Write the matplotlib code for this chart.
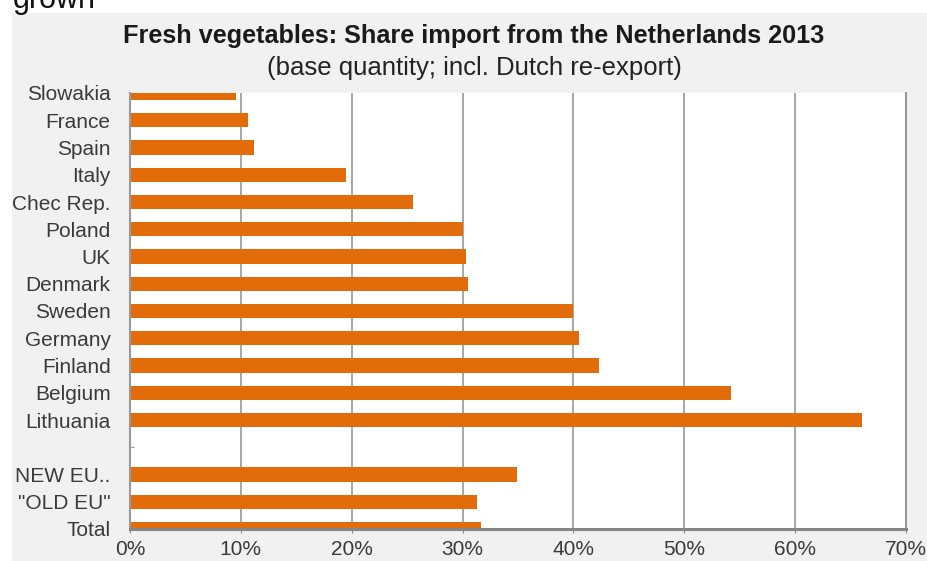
import numpy as np
import matplotlib.pyplot as plt
from matplotlib.patches import Rectangle

# --- datos (% de importacion desde Paises Bajos) ---
paises = ["Slowakia", "France", "Spain", "Italy", "Chec Rep.", "Poland", "UK",
          "Denmark", "Sweden", "Germany", "Finland", "Belgium", "Lithuania",
          "", "NEW EU..", "\"OLD EU\"", "Total"]
cuota = [9.6, 10.6, 11.2, 19.5, 25.5, 30.0, 30.3, 30.5, 40.0, 40.5, 42.3,
         54.2, 66.0, np.nan, 34.9, 31.3, 31.7]
xticks = [0, 10, 20, 30, 40, 50, 60, 70]
xtick_labels = [f"{v}%" for v in xticks]

NARANJA = "#E36C0A"
GRIS_TXT = "#3a3a3a"

plt.rcParams["font.family"] = ["Liberation Sans", "DejaVu Sans"]

W, H = 928, 561
fig = plt.figure(figsize=(W / 100, H / 100), dpi=100)
fig.patch.set_facecolor("white")

# panel gris de fondo (recorte de un informe)
fig.add_artist(Rectangle((12 / W, 0), 1 - 12 / W, 1 - 13 / H, transform=fig.transFigure,
                         facecolor="#f1f1f1", edgecolor="none", zorder=0))
# texto cortado arriba a la izquierda
fig.text(13 / W, 1 - 8 / H, "grown", fontsize=22, color="#111111", va="baseline", ha="left")

cx = 474 / W
fig.text(cx, 1 - 36 / H, "Fresh vegetables: Share import from the Netherlands 2013",
         fontsize=18.2, fontweight="bold", color="#1a1a1a", ha="center", va="center")
fig.text(cx, 1 - 68 / H, "(base quantity; incl. Dutch re-export)",
         fontsize=18.5, color="#222222", ha="center", va="center")

left, right, top, bottom = 130, 906, 93, 529
ax = fig.add_axes([left / W, 1 - bottom / H, (right - left) / W, (bottom - top) / H])
ax.set_facecolor("white")

y = np.arange(len(paises))
ax.barh(y, cuota, height=0.53, color=NARANJA, zorder=2)

ax.set_xlim(0, 70)
ax.set_ylim(len(paises) - 1, 0)
ax.set_xticks(xticks)
ax.set_xticklabels(xtick_labels, fontsize=15, color=GRIS_TXT)
ax.set_yticks(y)
ax.set_yticklabels(paises, fontsize=15, color=GRIS_TXT)

ax.grid(axis="x", color="#a0a0a0", lw=1.3, zorder=1)
ax.tick_params(axis="y", direction="in", length=3, color="#999999", pad=14)
ax.tick_params(axis="x", direction="out", length=3, color="#888888", pad=5)

ax.spines["top"].set_visible(False)
ax.spines["right"].set_color("#999999")
ax.spines["right"].set_linewidth(1.5)
ax.spines["left"].set_color("#999999")
ax.spines["left"].set_linewidth(1.5)
ax.spines["bottom"].set_color("#858585")
ax.spines["bottom"].set_linewidth(2.2)
ax.spines["bottom"].set_zorder(3)

fig.savefig("out.png", dpi=100)
